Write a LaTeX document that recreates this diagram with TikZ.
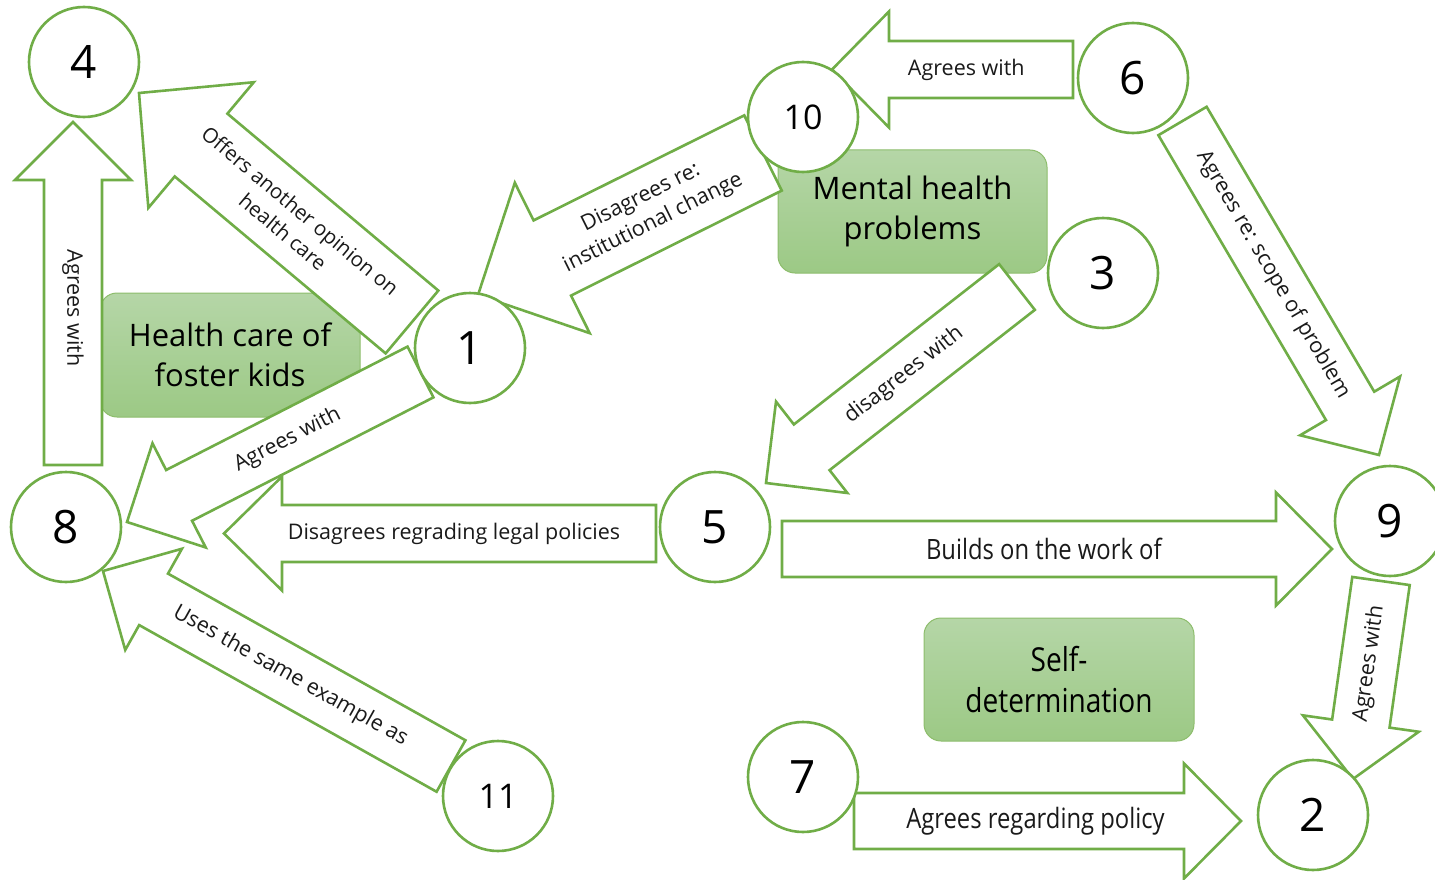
\documentclass[tikz,border=0pt]{standalone}
\usepackage{fontspec}
\usepackage{graphicx}
\setmainfont{Open Sans}
\usetikzlibrary{calc}

\definecolor{edge}{HTML}{70AD47}
\definecolor{boxtop}{HTML}{B5D6A7}
\definecolor{boxbot}{HTML}{9CC985}
\definecolor{ink}{HTML}{1A1A1A}

\tikzset{
  barrow/.style={draw=edge, line width=2.6pt, fill=white, line join=miter},
  lbl/.style={font=\fontsize{21.5}{28}\selectfont, text=ink, align=center, inner sep=0pt},
  widelbl/.style={lbl, font=\fontsize{28}{32}\selectfont},
  num/.style={circle, draw=edge, line width=2.6pt, fill=white, minimum size=110pt,
              inner sep=0pt, font=\fontsize{46}{50}\selectfont, text=black},
  smallnum/.style={num, font=\fontsize{34}{40}\selectfont},
  topic/.style={draw=edge!80, line width=1pt, rounded corners=17pt,
                top color=boxtop, bottom color=boxbot, inner sep=0pt,
                font=\fontsize{31}{40}\selectfont, align=center, text=black}
}

% block arrow: #1 tail, #2 tip, #3 shaft half-width, #4 head half-width,
% #5 head length, #6 label options, #7 label
\newcommand\blockarrow[7]{%
  \coordinate (neck) at ($(#2)!#5!(#1)$);
  \draw[barrow]
    ($(#1)!#3!90:(#2)$) -- ($(neck)!#3!90:(#2)$) -- ($(neck)!#4!90:(#2)$)
    -- (#2)
    -- ($(neck)!#4!-90:(#2)$) -- ($(neck)!#3!-90:(#2)$) -- ($(#1)!#3!-90:(#2)$)
    -- cycle;
  \path (#1) -- (neck) node[lbl, pos=0.5, #6] {#7};
}

\begin{document}
\begin{tikzpicture}[x=1pt, y=-1pt]
\useasboundingbox (0,0) rectangle (1435,880);

% topic boxes
\node[topic, minimum width=260pt, minimum height=124pt] (health) at (230,355)
  {Health care of\\foster kids};
\node[topic, minimum width=269pt, minimum height=123pt] (mental) at (912.5,211.5)
  {Mental health\\problems};
\node[topic, minimum width=270pt, minimum height=123pt, font=\fontsize{33}{41}\selectfont]
  (selfdet) at (1059,679.5)
  {\scalebox{0.85}[1]{Self-}\\\scalebox{0.85}[1]{determination}};

% arrow end points
\coordinate (t84) at (73,465);      \coordinate (h84) at (73,122);
\coordinate (t14) at (412,322);     \coordinate (h14) at (139,93);
\coordinate (t101) at (763,153);    \coordinate (h101) at (478,295);
\coordinate (t610) at (1073,69.5);  \coordinate (h610) at (832,69.5);
\coordinate (t69) at (1182.5,121);  \coordinate (h69) at (1379,455);
\coordinate (t35) at (1017,287);    \coordinate (h35) at (766,483);
\coordinate (t18) at (420.5,372);   \coordinate (h18) at (127,522);
\coordinate (t58) at (656,533.5);   \coordinate (h58) at (224,533.5);
\coordinate (t118) at (451,766);    \coordinate (h118) at (103,571);
\coordinate (t59) at (782,549);     \coordinate (h59) at (1332,549);
\coordinate (t92) at (1381,581);    \coordinate (h92) at (1353,779);
\coordinate (t72) at (854,821);     \coordinate (h72) at (1241,821);

% connectors
\blockarrow{t84}{h84}{29pt}{58pt}{58pt}{rotate=-90, pos=0.55}{Agrees with}
\blockarrow{t14}{h14}{41pt}{82pt}{81pt}{sloped, pos=0.57, font=\fontsize{20.5}{27}\selectfont}{Offers another opinion on\\health care}
\blockarrow{t101}{h101}{42pt}{84pt}{83pt}{sloped, pos=0.55}{Disagrees re:\\institutional change}
\blockarrow{t610}{h610}{28.5pt}{58pt}{57pt}{sloped, pos=0.58}{Agrees with}
\blockarrow{t69}{h69}{28pt}{58pt}{57pt}{sloped, pos=0.54}{Agrees re: scope of problem}
\blockarrow{t35}{h35}{29pt}{58pt}{58pt}{sloped, pos=0.55}{disagrees with}
\blockarrow{t18}{h18}{28.5pt}{58.5pt}{58.5pt}{sloped, pos=0.55}{Agrees with}
\blockarrow{t58}{h58}{28.5pt}{57pt}{58pt}{sloped, pos=0.54}{Disagrees regrading legal policies}
\blockarrow{t118}{h118}{29.5pt}{58pt}{58pt}{sloped, pos=0.54}{Uses the same example as}
\blockarrow{t59}{h59}{28pt}{56.5pt}{56pt}{sloped, widelbl, pos=0.53}{\scalebox{0.85}[1]{Builds on the work of}}
\blockarrow{t92}{h92}{29pt}{58.5pt}{56pt}{sloped, pos=0.58}{Agrees with}
\blockarrow{t72}{h72}{28pt}{57.5pt}{57pt}{sloped, widelbl, pos=0.55}{\scalebox{0.85}[1]{Agrees regarding policy}}

% numbered circles
\node[num] (n4) at (84,62) {4};
\node[num] (n1) at (470,348) {1};
\node[num] (n8) at (66,527) {8};
\node[smallnum] (n10) at (803,117) {10};
\node[num] (n6) at (1133,78) {6};
\node[num] (n3) at (1103,273) {3};
\node[num] (n5) at (715,527) {5};
\node[num] (n9) at (1390,521) {9};
\node[num] (n7) at (803,777) {7};
\node[num] (n2) at (1313,815) {2};
\node[smallnum] (n11) at (498,796) {11};
\end{tikzpicture}
\end{document}
